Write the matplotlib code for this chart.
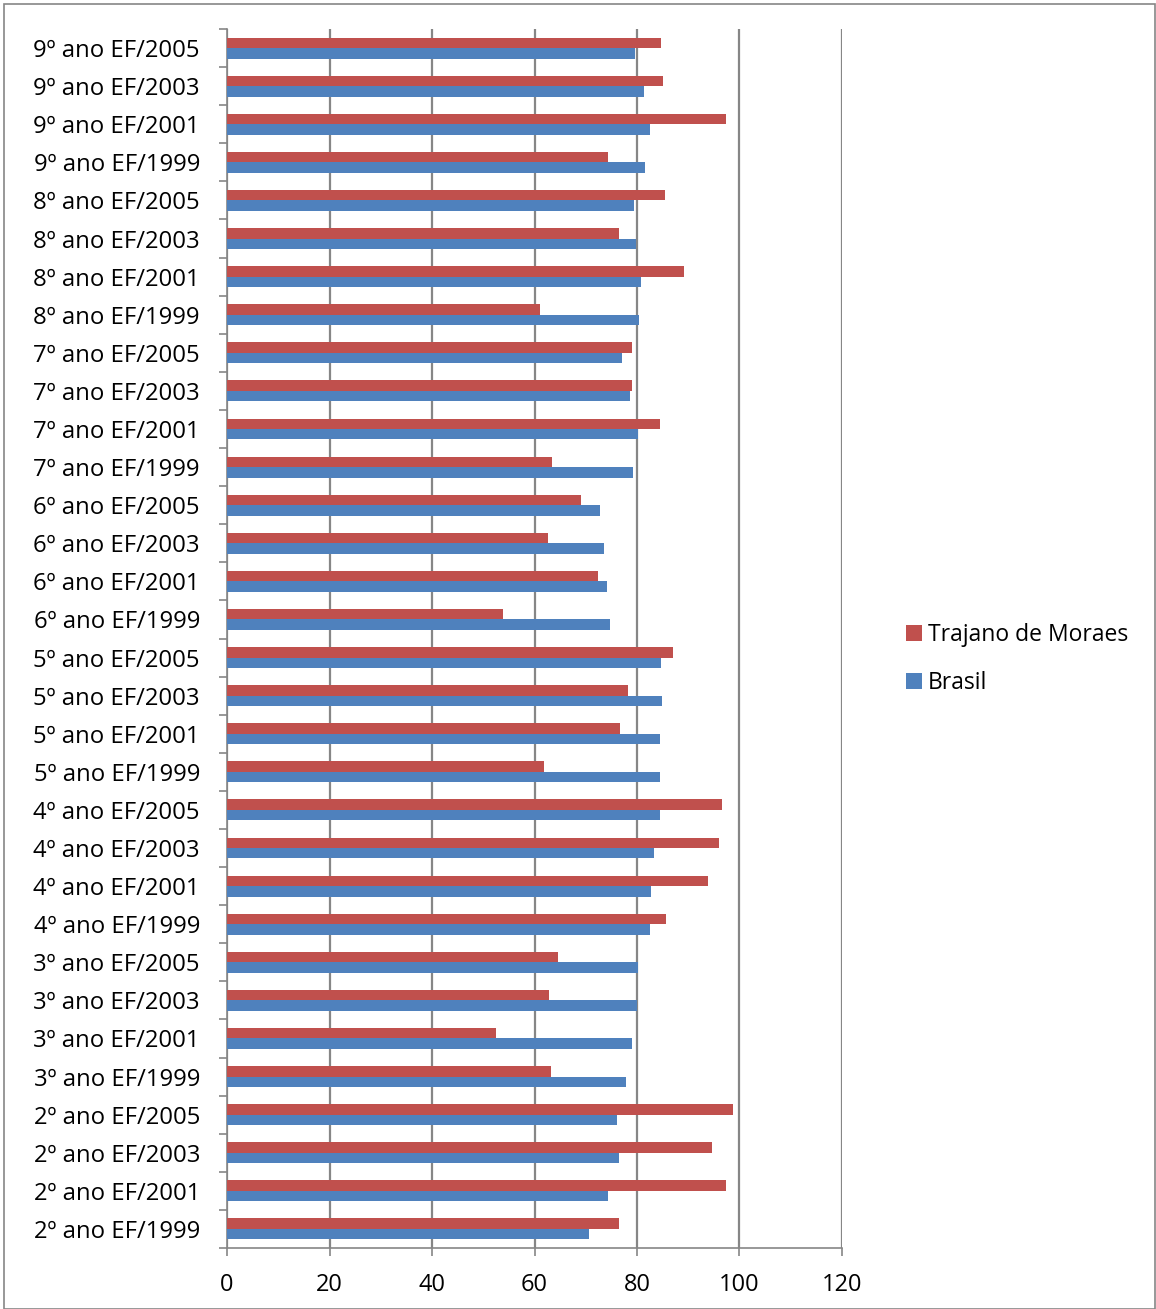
import matplotlib
matplotlib.use("Agg")
import matplotlib.pyplot as plt
import numpy as np
from matplotlib.patches import Rectangle

# Categories listed bottom to top
grades = ["2º", "3º", "4º", "5º", "6º", "7º", "8º", "9º"]
years = ["1999", "2001", "2003", "2005"]
categories = [f"{g} ano EF/{y}" for g in grades for y in years]

trajano = [
    76.4, 97.4, 94.7, 98.8,   # 2º
    63.2, 52.4, 62.8, 64.5,   # 3º
    85.7, 93.9, 96.0, 96.5,   # 4º
    61.9, 76.6, 78.2, 87.0,   # 5º
    53.9, 72.3, 62.6, 69.1,   # 6º
    63.5, 84.5, 79.0, 79.0,   # 7º
    61.1, 89.2, 76.5, 85.4,   # 8º
    74.3, 97.3, 85.0, 84.7,   # 9º
]
brasil = [
    70.7, 74.3, 76.4, 76.1,
    77.8, 79.1, 80.0, 80.1,
    82.5, 82.7, 83.4, 84.5,
    84.4, 84.5, 84.9, 84.7,
    74.8, 74.1, 73.5, 72.8,
    79.3, 80.1, 78.6, 77.1,
    80.3, 80.8, 79.9, 79.5,
    81.6, 82.5, 81.4, 79.7,
]
xticks = [0, 20, 40, 60, 80, 100, 120]

RED = "#C0504D"
BLUE = "#4F81BD"
GRID = "#868686"

plt.rcParams["font.family"] = ["Open Sans", "DejaVu Sans"]

W, H = 1156, 1309
fig = plt.figure(figsize=(W / 100, H / 100), dpi=100)
ax = fig.add_axes([227 / W, 1 - 1248 / H, (842 - 227) / W, (1248 - 29) / H])

pos = np.arange(len(categories))
bh = 0.275
ax.barh(pos + bh / 2, trajano, height=bh, color=RED, label="Trajano de Moraes", zorder=3)
ax.barh(pos - bh / 2, brasil, height=bh, color=BLUE, label="Brasil", zorder=3)

ax.set_xlim(0, 120)
ax.set_ylim(-0.5, len(categories) - 0.5)
ax.set_xticks(xticks)
ax.set_xticklabels([str(v) for v in xticks])
ax.set_yticks(pos)
ax.set_yticklabels(categories)
ax.set_yticks(np.arange(-0.5, len(categories), 1.0), minor=True)

ax.grid(axis="x", color=GRID, linewidth=1.6, zorder=0)
for s in ["top", "right"]:
    ax.spines[s].set_visible(False)
for s in ["left", "bottom"]:
    ax.spines[s].set_color(GRID)
    ax.spines[s].set_linewidth(1.2)

ax.tick_params(axis="y", which="major", length=0, pad=19.5, labelsize=17.2)
ax.tick_params(axis="y", which="minor", length=6, color=GRID, width=1.2)
ax.tick_params(axis="x", which="major", length=6, color=GRID, width=1.2,
               pad=12, labelsize=17)

leg = fig.legend(loc="upper left", bbox_to_anchor=(897 / W, 1 - 614 / H),
                 frameon=False, fontsize=16.5, handlelength=0.7, handleheight=0.7,
                 handletextpad=0.25, labelspacing=1.05, borderaxespad=0)

# Outer chart frame
fig.patches.append(Rectangle((4 / W, 0), 1 - 4 / W - 1 / W, 1 - 4 / H,
                             transform=fig.transFigure, fill=False,
                             edgecolor=GRID, linewidth=1.2))

fig.savefig("out.png", dpi=100)
